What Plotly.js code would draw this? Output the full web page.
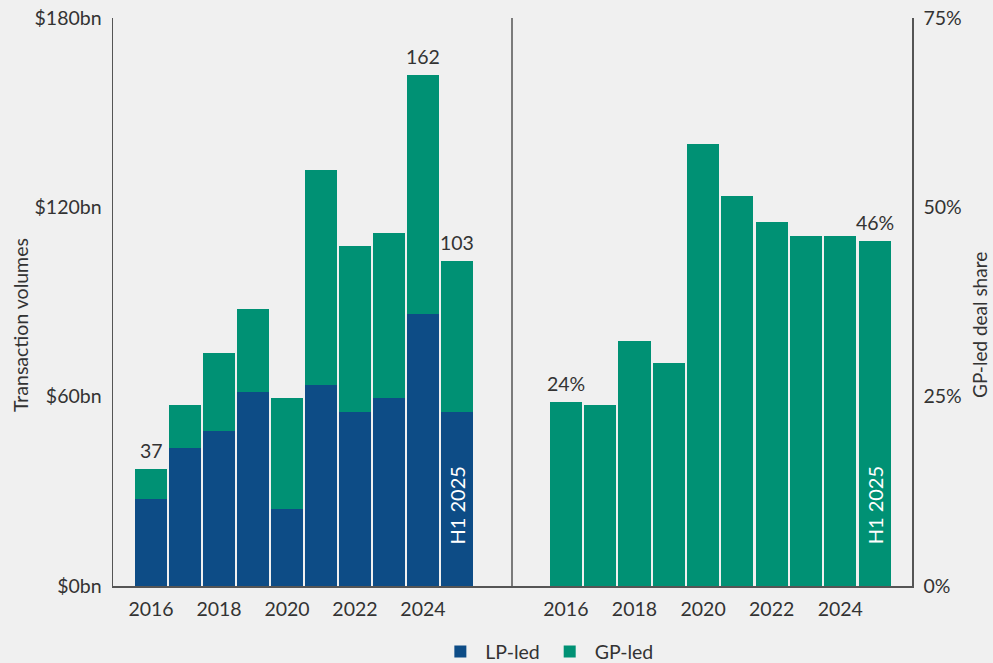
<!DOCTYPE html>
<html>
<head>
<meta charset="utf-8">
<script src="https://cdn.plot.ly/plotly-3.0.1.min.js"></script>
<style>html,body{margin:0;padding:0;background:#f0f0f0;}#chart{width:993px;height:663px;}</style>
</head>
<body>
<div id="chart"></div>
<script>
const years = [2016, 2017, 2018, 2019, 2020, 2021, 2022, 2023, 2024, 2025];
const lpLed = [27.6, 43.8, 49.2, 61.6, 24.4, 63.8, 55.2, 59.7, 86.3, 55.2];
const gpLed = [9.4, 13.7, 24.5, 26.3, 35.3, 67.9, 52.7, 52.3, 75.7, 47.8];
const gpShare = [24.3, 23.9, 32.4, 29.4, 58.3, 51.5, 48.0, 46.2, 46.2, 45.5];
const xTickVals = [2016, 2018, 2020, 2022, 2024];
const xTickText = ["2016", "2018", "2020", "2022", "2024"];
const volTicks = [0, 60, 120, 180];
const volTickText = ["$0bn", "$60bn", "$120bn", "$180bn"];
const shareTicks = [0, 25, 50, 75];
const shareTickText = ["0%", "25%", "50%", "75%"];
const totalLabels = [[0, "37"], [8, "162"], [9, "103"]];
const shareLabels = [[0, "24%"], [9, "46%"]];

const BLUE = "#0d4c86", GREEN = "#009174", TXT = "#333333", AX = "#555555";
const FONT = "Lato, 'Noto Sans', sans-serif";
const FS = 19.5;

const traces = [
  {type: "bar", x: years, y: lpLed, name: "LP-led", marker: {color: BLUE}, xaxis: "x", yaxis: "y", hoverinfo: "skip"},
  {type: "bar", x: years, y: gpLed, name: "GP-led", marker: {color: GREEN}, xaxis: "x", yaxis: "y", hoverinfo: "skip"},
  {type: "bar", x: years, y: gpShare, name: "GP-led share", showlegend: false, marker: {color: GREEN}, xaxis: "x2", yaxis: "y2", hoverinfo: "skip"}
];

const annotations = [];
totalLabels.forEach(([i, t]) => annotations.push({x: years[i], y: lpLed[i] + gpLed[i], xref: "x", yref: "y", text: t, showarrow: false, yanchor: "bottom", yshift: 5, font: {family: FONT, size: FS, color: TXT}}));
shareLabels.forEach(([i, t]) => annotations.push({x: years[i], y: gpShare[i], xref: "x2", yref: "y2", text: t, showarrow: false, yanchor: "bottom", yshift: 5, font: {family: FONT, size: FS, color: TXT}}));
annotations.push({x: years[9], y: 25.5, xref: "x", yref: "y", text: "H1 2025", textangle: -90, showarrow: false, font: {family: FONT, size: 20, color: "#ffffff"}});
annotations.push({x: years[9], y: 10.6, xref: "x2", yref: "y2", text: "H1 2025", textangle: -90, showarrow: false, font: {family: FONT, size: 20, color: "#ffffff"}});
annotations.push({x: 20, y: 325, xref: "paper", yref: "paper", xanchor: "center", yanchor: "middle", text: "Transaction volumes", textangle: -90, showarrow: false, font: {family: FONT, size: FS, color: TXT}});
annotations.push({x: 979, y: 325, xref: "paper", yref: "paper", xanchor: "center", yanchor: "middle", text: "GP-led deal share", textangle: -90, showarrow: false, font: {family: FONT, size: 19, color: TXT}});

const L = 113, R = 81, T = 18, B = 77, W = 993, H = 663;
const pw = W - L - R, ph = H - T - B;
annotations.forEach(a => {
  if (a.xref === "paper") {
    a.x = (a.x - L) / pw;
    a.y = (H - B - a.y) / ph;
  }
});
const split = (512 - L) / pw;

const axBase = {showgrid: false, zeroline: false, showline: true, linecolor: AX, linewidth: 1.5, ticks: "", tickfont: {size: FS, color: TXT}, fixedrange: true};

const layout = {
  width: W, height: H,
  margin: {l: L, r: R, t: T, b: B, pad: 0, autoexpand: false},
  paper_bgcolor: "#f0f0f0", plot_bgcolor: "#f0f0f0",
  barmode: "stack", bargap: 0.065,
  font: {family: FONT, size: FS, color: TXT},
  showlegend: true,
  legend: {orientation: "h", x: 0.543, xanchor: "center", y: -0.116, yanchor: "middle", font: {family: FONT, size: FS, color: TXT}, itemwidth: 40, traceorder: "normal"},
  xaxis: Object.assign({}, axBase, {domain: [0, split], range: [2014.88, 2026.62], tickvals: xTickVals, ticktext: xTickText, anchor: "y", ticklabelstandoff: 5}),
  xaxis2: Object.assign({}, axBase, {domain: [split, 1], range: [2014.43, 2026.09], tickvals: xTickVals, ticktext: xTickText, anchor: "y2", ticklabelstandoff: 5}),
  yaxis: Object.assign({}, axBase, {domain: [0, 1], range: [0, 180], tickvals: volTicks, ticktext: volTickText, anchor: "x", ticklabelstandoff: 6}),
  yaxis2: Object.assign({}, axBase, {domain: [0, 1], range: [0, 75], tickvals: shareTicks, ticktext: shareTickText, side: "right", anchor: "x2", ticklabelstandoff: 6}),
  shapes: [{type: "line", xref: "paper", yref: "paper", x0: split, x1: split, y0: 0, y1: 1, line: {color: AX, width: 1.5}}],
  annotations: annotations
};

Plotly.newPlot("chart", traces, layout, {displayModeBar: false, staticPlot: true});
</script>
</body>
</html>
